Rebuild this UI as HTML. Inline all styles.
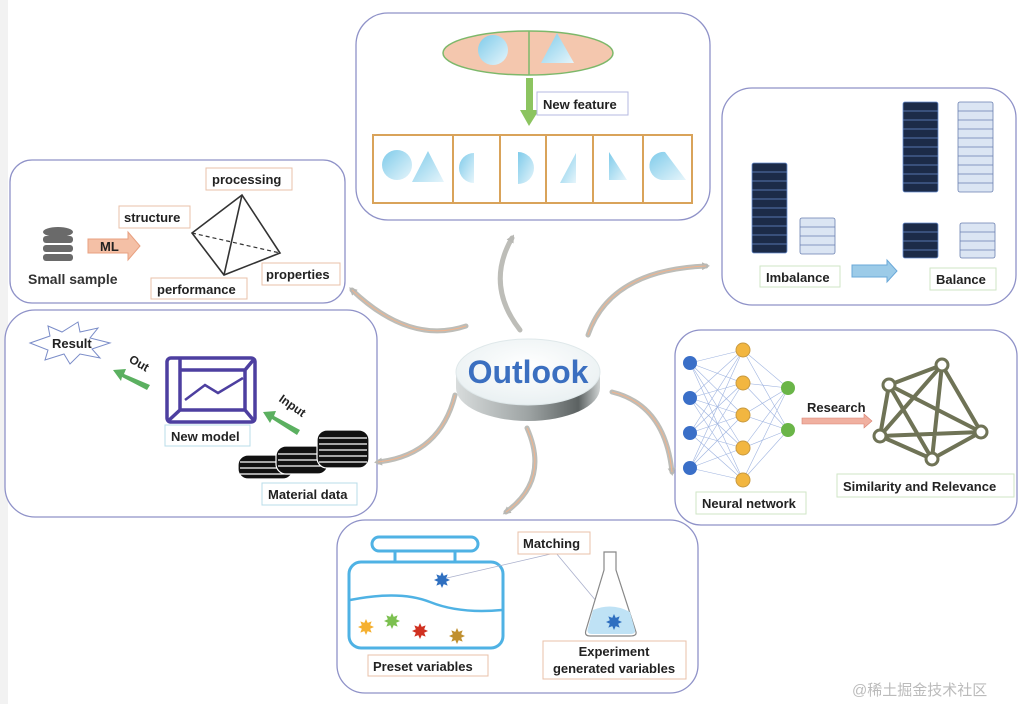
<!DOCTYPE html>
<html><head><meta charset="utf-8"><style>
html,body{margin:0;padding:0;background:#fff}
svg{display:block}
text{font-family:"Liberation Sans",Arial,sans-serif;font-weight:bold;fill:#222}
</style></head><body>
<svg width="1024" height="704" viewBox="0 0 1024 704" xmlns="http://www.w3.org/2000/svg">
<defs>
<linearGradient id="lb" x1="0" y1="0" x2="1" y2="1"><stop offset="0" stop-color="#7fcbea"/><stop offset="1" stop-color="#e6f5fb"/></linearGradient>
<linearGradient id="disk" x1="0" y1="0" x2="1" y2="0"><stop offset="0" stop-color="#d8dcdc"/><stop offset="0.5" stop-color="#9ea4a4"/><stop offset="0.85" stop-color="#5c6262"/><stop offset="1" stop-color="#cfd3d3"/></linearGradient>
<radialGradient id="top" cx="0.5" cy="0.4" r="0.7"><stop offset="0" stop-color="#ffffff"/><stop offset="1" stop-color="#e6eef0"/></radialGradient>
<marker id="ah" markerWidth="8" markerHeight="8" refX="4" refY="4" orient="auto" markerUnits="userSpaceOnUse"><path d="M0,0 L8,4 L0,8 z" fill="#b8b8b4"/></marker>
<path id="star" d="M8,0L4.16,1.72L5.66,5.66L1.72,4.16L0,8L-1.72,4.16L-5.66,5.66L-4.16,1.72L-8,0L-4.16,-1.72L-5.66,-5.66L-1.72,-4.16L0,-8L1.72,-4.16L5.66,-5.66L4.16,-1.72z"/>
</defs>
<rect x="0" y="0" width="8" height="704" fill="#f2f2f2"/>
<g fill="#fff" stroke="#8f92c8" stroke-width="1.3">
<rect x="356" y="13" width="354" height="207" rx="32"/>
<rect x="10" y="160" width="335" height="143" rx="22"/>
<rect x="5" y="310" width="372" height="207" rx="30"/>
<rect x="722" y="88" width="294" height="217" rx="30"/>
<rect x="675" y="330" width="342" height="195" rx="26"/>
<rect x="337" y="520" width="361" height="173" rx="28"/>
</g>
<g fill="none" stroke="#bdbdb8" stroke-width="5" stroke-linecap="round" marker-end="url(#ah)">
<path d="M466,326 Q410,345 352,290"/>
<path d="M520,330 Q485,285 512,238"/>
<path d="M588,335 Q610,270 706,266"/>
<path d="M612,392 Q665,405 672,472"/>
<path d="M527,428 Q550,480 506,512"/>
<path d="M455,395 Q440,455 378,462"/>
</g>
<g fill="none" stroke="#f0b48e" stroke-width="1">
<path d="M466,326 Q410,345 352,290"/><path d="M588,335 Q610,270 706,266"/><path d="M612,392 Q665,405 672,472"/><path d="M527,428 Q550,480 506,512"/><path d="M455,395 Q440,455 378,462"/>
</g>
<path d="M456,372 L456,388 A72,33 0 0 0 600,388 L600,372 z" fill="url(#disk)"/>
<ellipse cx="528" cy="372" rx="72" ry="33" fill="url(#top)" stroke="#dfe8ea"/>
<text x="528" y="383" text-anchor="middle" font-size="32" style="fill:#3b6fc0">Outlook</text>
<ellipse cx="528" cy="53" rx="85" ry="22" fill="#f4c7ae" stroke="#7db86a" stroke-width="1.5"/>
<line x1="529" y1="31" x2="529" y2="75" stroke="#7db86a" stroke-width="1.5"/>
<circle cx="493" cy="50" r="15" fill="url(#lb)"/>
<path d="M541,63 L557,33 L574,63 z" fill="url(#lb)"/>
<rect x="526" y="78" width="7" height="33" fill="#8cc460"/>
<path d="M520,110 L539,110 L529,126 z" fill="#8cc460"/>
<rect x="537" y="92" width="91" height="23" fill="#fff" stroke="#b6b8e0"/>
<text x="543" y="109" font-size="13">New feature</text>
<g fill="none" stroke="#d9a35a" stroke-width="2">
<rect x="373" y="135" width="319" height="68"/>
<line x1="453" y1="135" x2="453" y2="203"/><line x1="500" y1="135" x2="500" y2="203"/><line x1="546" y1="135" x2="546" y2="203"/><line x1="593" y1="135" x2="593" y2="203"/><line x1="643" y1="135" x2="643" y2="203"/>
</g>
<g fill="url(#lb)">
<circle cx="397" cy="165" r="15"/><path d="M412,182 L428,151 L444,182 z"/>
<path d="M474,153 A15,15 0 0 0 474,183 z"/>
<path d="M518,152 A15,15 0 0 1 518,184 z"/>
<path d="M560,183 L576,153 L576,183 z"/>
<path d="M609,152 L627,180 L609,180 z"/>
<path d="M665,152 A14,14 0 0 0 662,180 L686,180 z"/>
</g>
<g fill="#6a6a6a"><ellipse cx="58" cy="232" rx="15" ry="5"/><rect x="43" y="236" width="30" height="7" rx="3"/><rect x="43" y="245" width="30" height="7" rx="3"/><rect x="43" y="254" width="30" height="7" rx="3"/></g>
<path d="M88,239 L128,239 L128,232 L140,246 L128,260 L128,253 L88,253 z" fill="#f4c0a6" stroke="#e8a080"/>
<text x="100" y="251" font-size="13">ML</text>
<text x="28" y="284" font-size="14" style="fill:#333">Small sample</text>
<g stroke="#333" stroke-width="1.6" fill="none">
<path d="M242,195 L192,233 L224,275 L280,253 z"/><path d="M242,195 L224,275"/>
<path d="M192,233 L280,253" stroke-dasharray="4,3" stroke-width="1.2"/>
</g>
<g fill="#fff" stroke="#eac0a8"><rect x="119" y="206" width="71" height="22"/><rect x="206" y="168" width="86" height="22"/><rect x="151" y="278" width="96" height="21"/><rect x="262" y="263" width="78" height="22"/></g>
<text x="124" y="222" font-size="13">structure</text>
<text x="212" y="184" font-size="13">processing</text>
<text x="157" y="294" font-size="13">performance</text>
<text x="266" y="279" font-size="13">properties</text>
<path d="M30,343 L50,336 L48,326 L62,332 L78,322 L80,332 L98,328 L90,338 L110,343 L92,349 L100,358 L80,354 L70,364 L64,354 L45,360 L48,350 z" fill="#fff" stroke="#7a8cc8"/>
<text x="52" y="348" font-size="13">Result</text>
<path d="M150,385 L124,374 L126,369 L113,370 L121,381 L122,377 L147,390 z" fill="#5bb060"/>
<text x="128" y="368" font-size="12" transform="rotate(30 140 365)">Out</text>
<g fill="none" stroke="#4d3fa0" stroke-width="3.5">
<rect x="167" y="358" width="88" height="64" rx="4"/>
<path d="M180,358 L180,410 M167,422 L180,410 L245,410 L255,422 M245,410 L245,370 L255,358 M180,370 L245,370"/>
</g>
<path d="M185,400 L205,385 L218,393 L243,378" fill="none" stroke="#4d3fa0" stroke-width="2.5"/>
<rect x="165" y="425" width="85" height="21" fill="#fff" stroke="#b8dcea"/>
<text x="171" y="441" font-size="13">New model</text>
<path d="M300,430 L274,416 L276,411 L263,412 L270,423 L272,419 L297,435 z" fill="#5bb060"/>
<text x="272" y="410" font-size="12" transform="rotate(35 290 415)">Input</text>
<g fill="#111" stroke="#fff" stroke-width="1.2">
<rect x="238" y="455" width="55" height="24" rx="10"/>
<line x1="240" y1="462" x2="291" y2="462"/><line x1="240" y1="468" x2="291" y2="468"/><line x1="240" y1="474" x2="291" y2="474"/>
<rect x="276" y="446" width="52" height="28" rx="10"/>
<line x1="278" y1="454" x2="326" y2="454"/><line x1="278" y1="460" x2="326" y2="460"/><line x1="278" y1="466" x2="326" y2="466"/>
<rect x="317" y="430" width="52" height="38" rx="10"/>
<line x1="319" y1="438" x2="367" y2="438"/><line x1="319" y1="444" x2="367" y2="444"/><line x1="319" y1="450" x2="367" y2="450"/><line x1="319" y1="456" x2="367" y2="456"/><line x1="319" y1="462" x2="367" y2="462"/>
</g>
<rect x="262" y="483" width="95" height="22" fill="#fff" stroke="#b8dcea"/>
<text x="268" y="499" font-size="13">Material data</text>
<g fill="#1c2b48" stroke="#6a8fd0" stroke-width="0.8">
<rect x="752" y="163" width="35" height="90" rx="2"/>
<rect x="903" y="102" width="35" height="90" rx="2"/>
<rect x="903" y="223" width="35" height="35" rx="2"/>
</g>
<g stroke="#6a8fd0" stroke-width="0.8">
<path d="M752,172h35M752,181h35M752,190h35M752,199h35M752,208h35M752,217h35M752,226h35M752,235h35M752,244h35"/>
<path d="M903,111h35M903,120h35M903,129h35M903,138h35M903,147h35M903,156h35M903,165h35M903,174h35M903,183h35M903,232h35M903,241h35M903,250h35"/>
</g>
<g fill="#dbe5f3" stroke="#6a7fb0" stroke-width="0.8">
<rect x="800" y="218" width="35" height="36" rx="2"/>
<rect x="958" y="102" width="35" height="90" rx="2"/>
<rect x="960" y="223" width="35" height="35" rx="2"/>
<path d="M800,227h35M800,236h35M800,245h35"/>
<path d="M958,111h35M958,120h35M958,129h35M958,138h35M958,147h35M958,156h35M958,165h35M958,174h35M958,183h35M960,232h35M960,241h35M960,250h35"/>
</g>
<rect x="760" y="266" width="80" height="21" fill="#fff" stroke="#cfe6c6"/>
<text x="766" y="282" font-size="13">Imbalance</text>
<path d="M852,265 L887,265 L887,260 L897,271 L887,282 L887,277 L852,277 z" fill="#9ccbe8" stroke="#6aa8d8"/>
<rect x="930" y="268" width="66" height="22" fill="#fff" stroke="#cfe6c6"/>
<text x="936" y="284" font-size="13">Balance</text>
<g stroke="#9fb4e0" stroke-width="0.6">
<path d="M690,363L743,350M690,363L743,383M690,363L743,415M690,363L743,448M690,363L743,480M690,398L743,350M690,398L743,383M690,398L743,415M690,398L743,448M690,398L743,480M690,433L743,350M690,433L743,383M690,433L743,415M690,433L743,448M690,433L743,480M690,468L743,350M690,468L743,383M690,468L743,415M690,468L743,448M690,468L743,480"/>
<path d="M743,350L788,388M743,383L788,388M743,415L788,388M743,448L788,388M743,480L788,388M743,350L788,430M743,383L788,430M743,415L788,430M743,448L788,430M743,480L788,430"/>
</g>
<g fill="#3a6fc8"><circle cx="690" cy="363" r="7"/><circle cx="690" cy="398" r="7"/><circle cx="690" cy="433" r="7"/><circle cx="690" cy="468" r="7"/></g>
<g fill="#f2b640" stroke="#c89a40"><circle cx="743" cy="350" r="7"/><circle cx="743" cy="383" r="7"/><circle cx="743" cy="415" r="7"/><circle cx="743" cy="448" r="7"/><circle cx="743" cy="480" r="7"/></g>
<g fill="#6ab548"><circle cx="788" cy="388" r="7"/><circle cx="788" cy="430" r="7"/></g>
<text x="807" y="412" font-size="13">Research</text>
<path d="M802,418 L864,418 L864,414 L872,421 L864,428 L864,424 L802,424 z" fill="#f0b0a0" stroke="#d88070" stroke-width="0.6"/>
<g stroke="#6f7356" stroke-width="4" fill="none">
<path d="M942,365L889,385L880,436L932,459L981,432L942,365L880,436M942,365L932,459M889,385L981,432M889,385L932,459M880,436L981,432"/>
</g>
<g fill="#fff" stroke="#6f7356" stroke-width="3"><circle cx="942" cy="365" r="6"/><circle cx="889" cy="385" r="6"/><circle cx="880" cy="436" r="6"/><circle cx="932" cy="459" r="6"/><circle cx="981" cy="432" r="6"/></g>
<rect x="837" y="474" width="177" height="23" fill="#fff" stroke="#cfe6c6"/>
<text x="843" y="491" font-size="13">Similarity and Relevance</text>
<rect x="696" y="492" width="110" height="22" fill="#fff" stroke="#cfe6c6"/>
<text x="702" y="508" font-size="13">Neural network</text>
<g fill="none" stroke="#4fb2e4" stroke-width="3">
<rect x="372" y="537" width="106" height="14" rx="7"/>
<path d="M395,551V562M455,551V562"/>
<rect x="349" y="562" width="154" height="86" rx="12"/>
</g>
<path d="M350,600 Q400,590 430,602 T502,610" fill="none" stroke="#4fb2e4" stroke-width="2.5"/>
<line x1="447" y1="578" x2="555" y2="553" stroke="#aab0cc" stroke-width="0.8"/>
<line x1="556" y1="553" x2="612" y2="620" stroke="#aab0cc" stroke-width="0.8"/>
<use href="#star" transform="translate(442,580)" fill="#2f6fc0"/>
<use href="#star" transform="translate(366,627)" fill="#f5b030"/>
<use href="#star" transform="translate(392,621)" fill="#7cc050"/>
<use href="#star" transform="translate(420,631)" fill="#d03020"/>
<use href="#star" transform="translate(457,636)" fill="#c09030"/>
<path d="M604,552 L616,552 L616,570 L636,632 Q637,636 630,636 L590,636 Q584,636 586,630 L604,570 z" fill="#fff" stroke="#888" stroke-width="1.2"/>
<path d="M593,610 Q612,602 630,612 L635,630 Q636,634 630,634 L592,634 Q586,634 588,628 z" fill="#bfe2f5"/>
<use href="#star" transform="translate(614,622)" fill="#2f6fc0"/>
<rect x="518" y="532" width="72" height="22" fill="#fff" stroke="#eac0a8"/>
<text x="523" y="548" font-size="13">Matching</text>
<rect x="368" y="655" width="120" height="21" fill="#fff" stroke="#eac0a8"/>
<text x="373" y="671" font-size="13">Preset variables</text>
<rect x="543" y="641" width="143" height="38" fill="#fff" stroke="#eac0a8"/>
<text x="614" y="656" font-size="13" text-anchor="middle">Experiment</text>
<text x="614" y="673" font-size="13" text-anchor="middle">generated variables</text>
<text x="852" y="695" font-size="15" style="font-weight:normal;fill:#bbb;font-family:'Liberation Sans','Noto Sans CJK SC',sans-serif">@稀土掘金技术社区</text>
</svg>
</body></html>
